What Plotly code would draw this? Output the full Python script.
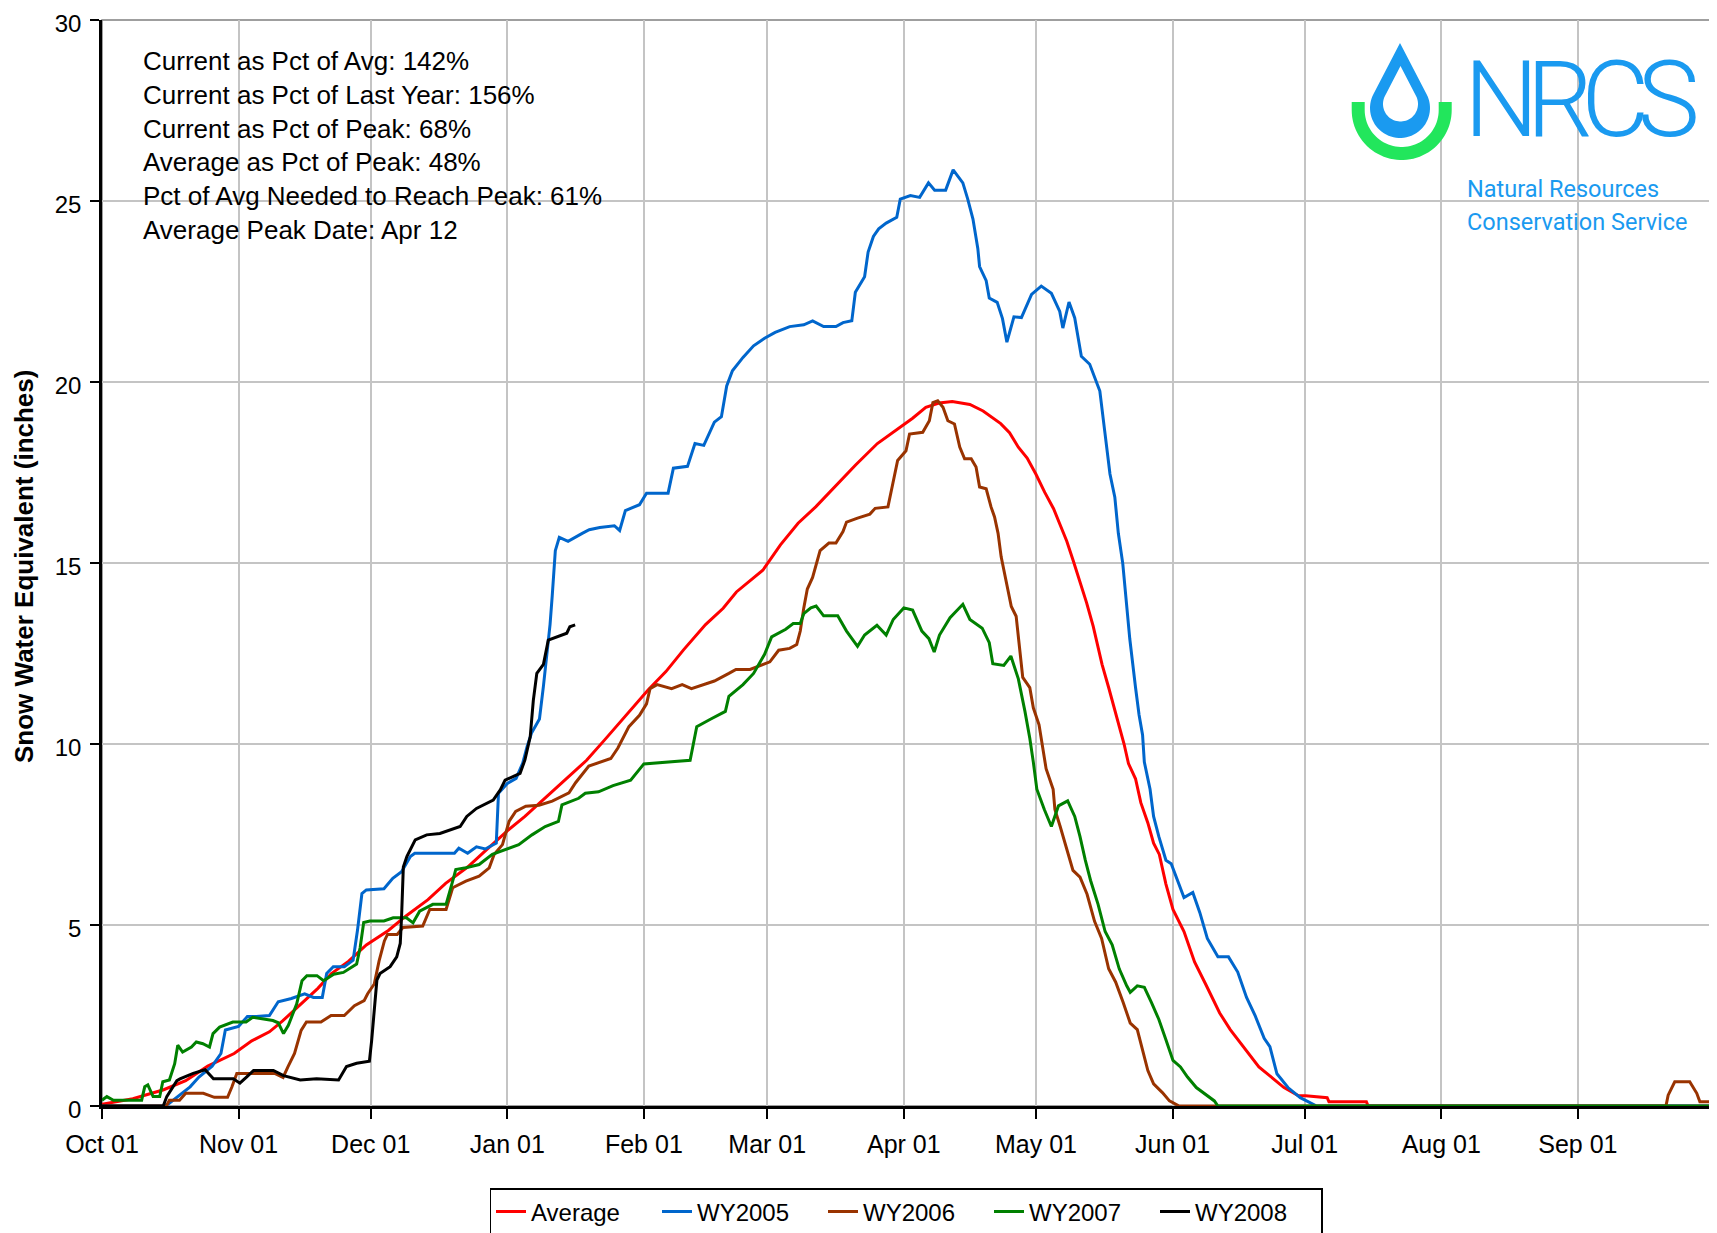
import numpy as np
import pandas as pd
import plotly.graph_objects as go

# ---------------- data (day offset from Oct 01, SWE inches) ----------------
START = "2006-10-01"

average = [(0, 0.05), (7, 0.2), (14, 0.45), (19, 0.7), (24, 1.1), (30, 1.45), (34, 1.8), (38, 2.05),
           (41, 2.35), (45, 2.8), (49, 3.25), (52, 3.65), (56, 4.0), (60, 4.45), (65, 4.85), (69, 5.25),
           (74, 5.7), (78, 6.15), (83, 6.6), (87, 7.05), (92, 7.6), (96, 8.0), (101, 8.55), (105, 9.0),
           (110, 9.55), (114, 10.1), (119, 10.8), (124, 11.5), (128, 12.0), (132, 12.6), (137, 13.3),
           (141, 13.75), (144, 14.2), (147, 14.5), (150, 14.8), (154, 15.5), (158, 16.1), (162, 16.55),
           (167, 17.2), (171, 17.7), (176, 18.3), (180, 18.65), (184, 19.0), (187, 19.3), (190, 19.42),
           (193, 19.46), (197, 19.38), (200, 19.2), (202, 19.02), (204, 18.85), (206, 18.6), (208, 18.2),
           (210, 17.9), (212, 17.45), (214, 16.95), (216, 16.5), (217.5, 16.05), (219, 15.6), (220.5, 15.05),
           (222, 14.5), (223.5, 13.9), (225, 13.25), (227, 12.2), (228.5, 11.56), (230, 10.9), (232, 10.0),
           (233, 9.46), (234.6, 9.04), (235.8, 8.38), (237.4, 7.82), (238.7, 7.26), (240, 6.95), (241.5, 6.13),
           (243.1, 5.43), (245.6, 4.82), (248, 3.98), (250.5, 3.37), (253.7, 2.57), (256.1, 2.11),
           (259.4, 1.59), (262.6, 1.08), (265.9, 0.75), (268.3, 0.51), (271.6, 0.28), (273.2, 0.28),
           (278.1, 0.23), (278.5, 0.12), (287, 0.12), (287.4, 0), (365, 0)]

wy2005 = [(0, 0), (14, 0), (15, 0.05), (18, 0.35), (20, 0.53), (22, 0.8), (25, 1.1), (27, 1.45), (28, 2.1),
          (31, 2.2), (33, 2.47), (35, 2.47), (38, 2.5), (40, 2.88), (43, 2.97), (46, 3.1), (48, 3.0),
          (50, 3.0), (51, 3.66), (52.5, 3.85), (55, 3.85), (57, 4.03), (58, 4.86), (59, 5.87), (60, 5.97),
          (64, 6.0), (66, 6.29), (68, 6.47), (70, 6.89), (71, 6.98), (80, 6.98), (81, 7.12), (83, 6.98),
          (85, 7.16), (87, 7.1), (89.5, 7.26), (90, 8.64), (92, 8.91), (94, 9.05), (95.5, 9.47),
          (96.5, 9.93), (97.5, 10.3), (99.3, 10.69), (100.2, 11.6), (101, 12.5), (101.7, 13.3),
          (102.2, 14.1), (102.9, 15.34), (103.8, 15.71), (105.8, 15.6), (109, 15.82), (110.6, 15.92),
          (113, 15.98), (116.3, 16.03), (117.5, 15.9), (118.8, 16.45), (122, 16.61), (123.6, 16.93),
          (128.5, 16.93), (129.7, 17.62), (132.9, 17.67), (134.6, 18.3), (136.6, 18.25), (139, 18.89),
          (140.6, 19.04), (141.8, 19.89), (143.1, 20.31), (145.5, 20.68), (147.9, 21.0), (150.4, 21.21),
          (152.8, 21.37), (156.1, 21.53), (159.3, 21.58), (161.3, 21.69), (163.8, 21.53), (166.6, 21.53),
          (168.2, 21.64), (170.2, 21.69), (171, 22.48), (173.1, 22.91), (173.9, 23.59), (175.1, 24.02),
          (176.3, 24.23), (178, 24.39), (180.4, 24.55), (181.2, 25.05), (183.5, 25.15), (185.6, 25.1),
          (187.6, 25.5), (189, 25.3), (191.5, 25.3), (193.2, 25.86), (195.4, 25.5), (196.5, 25.06),
          (197.7, 24.5), (198.8, 23.69), (199.2, 23.19), (200.7, 22.8), (201.4, 22.32), (203.2, 22.2),
          (204.4, 21.75), (205.4, 21.1), (207, 21.8), (208.7, 21.78), (211, 22.42), (213.2, 22.65),
          (215.5, 22.45), (217.4, 21.95), (218.1, 21.49), (219.5, 22.21), (220.8, 21.77), (221.9, 21.03),
          (222.3, 20.71), (224.2, 20.49), (226.5, 19.75), (227.6, 18.65), (228.8, 17.46), (229.9, 16.82),
          (230.7, 15.82), (231.7, 14.99), (232.6, 13.8), (233.3, 12.9), (234.6, 11.56), (235.4, 10.81),
          (236.2, 10.25), (236.6, 9.5), (237.9, 8.75), (238.7, 8.0), (239.9, 7.44), (241.5, 6.79),
          (242.7, 6.69), (243.9, 6.32), (245.6, 5.76), (247.6, 5.9), (249.2, 5.34), (250.9, 4.63),
          (253.3, 4.12), (255.7, 4.12), (257.8, 3.7), (259.8, 3.0), (261.8, 2.48), (263.8, 1.87),
          (265.1, 1.64), (266.7, 0.89), (269.2, 0.51), (272, 0.23), (274.8, 0.05), (275.7, 0), (365, 0)]

wy2006 = [(0, 0), (14.6, 0), (15.3, 0.16), (17.6, 0.16), (19, 0.35), (23, 0.35), (25.5, 0.24), (28.5, 0.24),
          (29.5, 0.53), (30.6, 0.9), (39.2, 0.9), (41.1, 0.79), (42.2, 1.08), (43.7, 1.45), (45.2, 2.09),
          (46.4, 2.32), (49.7, 2.32), (52, 2.5), (55, 2.5), (57.3, 2.77), (59.5, 2.91), (60.3, 3.1),
          (61.8, 3.37), (62.9, 4.01), (64.1, 4.56), (64.8, 4.74), (67, 4.74), (68.3, 4.93), (72.8, 4.97),
          (74.4, 5.43), (78.1, 5.43), (79.6, 6.03), (82.6, 6.21), (85.6, 6.35), (87.9, 6.58), (89, 6.95),
          (90.9, 7.22), (92.4, 7.86), (93.9, 8.14), (96.2, 8.28), (99.2, 8.31), (102.2, 8.42), (106, 8.65),
          (107.5, 8.93), (110.5, 9.39), (112.8, 9.48), (115.5, 9.6), (117.1, 9.89), (119.6, 10.48),
          (122, 10.79), (123.6, 11.11), (124.4, 11.53), (126, 11.64), (129.3, 11.53), (131.7, 11.64),
          (133.8, 11.53), (137.4, 11.69), (139, 11.74), (142.3, 11.95), (143.9, 12.06), (147.1, 12.06),
          (149.6, 12.17), (151.6, 12.27), (153.6, 12.59), (156.1, 12.64), (157.7, 12.75), (158.5, 13.12),
          (159.3, 13.76), (160.1, 14.28), (161.3, 14.6), (162.5, 15.13), (163, 15.34), (165, 15.55),
          (166.6, 15.55), (168.2, 15.87), (169, 16.13), (171.5, 16.24), (174.3, 16.35), (175.5, 16.51),
          (178.4, 16.55), (179.5, 17.19), (180.6, 17.83), (182.5, 18.1), (183.3, 18.56), (186.3, 18.61),
          (187.8, 18.93), (188.6, 19.43), (189.7, 19.48), (190.9, 19.3), (192, 18.93), (193.5, 18.84),
          (194.7, 18.2), (195.8, 17.88), (197.3, 17.88), (198.4, 17.65), (199.2, 17.1), (200.7, 17.05),
          (201.8, 16.55), (202.6, 16.27), (203.4, 15.82), (204.1, 15.17), (205.3, 14.4), (206.4, 13.8),
          (207.5, 13.53), (208.2, 12.69), (209, 11.84), (210.6, 11.56), (211.4, 11.0), (212.7, 10.53),
          (213.5, 9.88), (214.3, 9.32), (215.9, 8.75), (216.3, 8.19), (217.5, 7.72), (218.4, 7.35),
          (219.2, 6.98), (220.4, 6.51), (222, 6.32), (223.6, 5.85), (225.3, 5.1), (226.9, 4.63),
          (228.5, 3.79), (230.1, 3.42), (231.8, 2.86), (233.4, 2.29), (235, 2.11), (236.2, 1.54),
          (237.4, 0.98), (238.7, 0.61), (240.7, 0.37), (242.3, 0.14), (244, 0.03), (244.5, 0), (355, 0),
          (355.5, 0.3), (357, 0.67), (360.4, 0.67), (362, 0.35), (362.7, 0.12), (365, 0.12)]

wy2007 = [(0, 0.16), (1.1, 0.26), (2.6, 0.16), (9, 0.16), (9.7, 0.53), (10.4, 0.58), (11.6, 0.26),
          (13.1, 0.26), (13.8, 0.67), (15.3, 0.72), (16.5, 1.17), (17.2, 1.68), (18.3, 1.49), (20.3, 1.63),
          (21.4, 1.77), (22.9, 1.72), (24.4, 1.63), (25.2, 2.0), (26.7, 2.18), (29.7, 2.32), (32.7, 2.32),
          (34.2, 2.45), (38.8, 2.36), (40, 2.3), (41.2, 2.0), (42.3, 2.23), (44.2, 2.82), (45.4, 3.46),
          (46.5, 3.6), (48.8, 3.6), (50.3, 3.46), (52.6, 3.64), (54.8, 3.69), (57.8, 3.92), (58.6, 4.38),
          (59.4, 5.07), (60.8, 5.11), (64, 5.11), (66.1, 5.2), (69.1, 5.2), (70.6, 5.06), (72.1, 5.38),
          (75.1, 5.57), (78.1, 5.57), (79.6, 6.21), (80.3, 6.53), (82.6, 6.58), (85.6, 6.67), (88.6, 6.95),
          (91.6, 7.09), (94.6, 7.22), (97.6, 7.49), (100.6, 7.72), (103.6, 7.86), (104.4, 8.32),
          (108.2, 8.5), (109.7, 8.64), (112.7, 8.68), (116, 8.85), (120, 9.0), (123, 9.45), (133.5, 9.55),
          (135, 10.48), (138.2, 10.69), (141.5, 10.9), (142.3, 11.32), (145.5, 11.64), (147.9, 11.95),
          (150.4, 12.48), (152, 12.96), (155.2, 13.17), (156.9, 13.33), (158.5, 13.33), (159.3, 13.6),
          (160.9, 13.76), (162.1, 13.81), (163.8, 13.54), (167, 13.54), (169, 13.12), (171.5, 12.7),
          (173.1, 13.01), (175.9, 13.28), (178, 13.01), (179.6, 13.44), (182, 13.76), (184, 13.7),
          (186.1, 13.12), (187.7, 12.91), (188.9, 12.54), (190.1, 13.01), (192.5, 13.49), (195.4, 13.86),
          (197, 13.44), (199.8, 13.2), (201.4, 12.8), (202.2, 12.22), (204.7, 12.17), (206.3, 12.43),
          (208, 11.8), (209.5, 10.9), (210.6, 10.16), (211.4, 9.5), (212.2, 8.75), (213.9, 8.19),
          (215.5, 7.72), (217.1, 8.29), (219.2, 8.43), (220.8, 8.0), (222, 7.44), (223.2, 6.79),
          (224.4, 6.23), (226.1, 5.57), (227.7, 4.82), (229.3, 4.45), (230.9, 3.79), (232.6, 3.32),
          (233.4, 3.14), (235, 3.32), (236.6, 3.28), (238.2, 2.86), (239.9, 2.39), (241.5, 1.83),
          (243.1, 1.26), (244.8, 1.08), (246.4, 0.8), (248.4, 0.51), (250.5, 0.33), (252.5, 0.14),
          (253.3, 0), (365, 0)]

wy2008 = [(0, 0), (13.9, 0), (14.7, 0.26), (17, 0.7), (17.7, 0.75), (20.7, 0.9), (23.4, 1.0), (25.3, 0.75),
          (29.8, 0.75), (31.3, 0.63), (32.8, 0.8), (34.4, 0.98), (38.9, 0.98), (41.2, 0.84), (45, 0.72),
          (48.7, 0.75), (53.7, 0.72), (55.5, 1.09), (57.8, 1.18), (60.1, 1.24), (60.7, 1.24), (61.2, 1.8),
          (61.7, 2.56), (62.4, 3.48), (63.1, 3.66), (65.4, 3.85), (66.9, 4.12), (67.7, 4.49), (68, 5.23),
          (68.4, 6.6), (69.2, 6.89), (71.1, 7.35), (73.7, 7.49), (76.7, 7.53), (81.3, 7.72), (82.8, 8.0),
          (85, 8.22), (88.8, 8.45), (90.4, 8.73), (91.5, 9.0), (94.9, 9.19), (96, 9.56), (97.2, 10.2),
          (97.9, 11.2), (98.7, 11.95), (100.2, 12.2), (101.3, 12.87), (104, 13.0), (105.5, 13.06),
          (106.2, 13.24), (107.4, 13.29)]

series_names = ["Average", "WY2005", "WY2006", "WY2007", "WY2008"]
series_data = [average, wy2005, wy2006, wy2007, wy2008]
series_colors = ["#ff0000", "#0066cc", "#993300", "#008000", "#000000"]

month_ticks = ["2006-10-01", "2006-11-01", "2006-12-01", "2007-01-01", "2007-02-01", "2007-03-01",
               "2007-04-01", "2007-05-01", "2007-06-01", "2007-07-01", "2007-08-01", "2007-09-01",
               "2007-10-01"]
month_labels = ["Oct 01", "Nov 01", "Dec 01", "Jan 01", "Feb 01", "Mar 01",
                "Apr 01", "May 01", "Jun 01", "Jul 01", "Aug 01", "Sep 01", ""]
y_ticks = [0, 5, 10, 15, 20, 25, 30]

stats_lines = ["Current as Pct of Avg: 142%", "Current as Pct of Last Year: 156%",
               "Current as Pct of Peak: 68%", "Average as Pct of Peak: 48%",
               "Pct of Avg Needed to Reach Peak: 61%", "Average Peak Date: Apr 12"]

# ---------------- layout geometry (screen pixels; page body has an 8px margin) ----------------
OFF = 8
SCR_W, SCR_H = 1717, 1233
PL, PR, PT, PB = 102, 1710, 20, 1106          # plot area edges on screen
W, H = SCR_W - OFF, SCR_H - OFF
ML, MT = PL - OFF, PT - OFF
MR, MB = W - (PR - OFF), H - (PB - OFF)
PW, PH = PR - PL, PB - PT
FONT = "Arial, Liberation Sans, sans-serif"
LOGO_FONT = "Roboto, Liberation Sans, sans-serif"
LOGO_BLUE = "#1a9af0"
LOGO_GREEN = "#22e65c"


def px(x):
    return (x - PL) / PW


def py(y):
    return (PB - y) / PH


def path_from(points_list):
    s = ""
    for pts in points_list:
        s += "M" + " L".join(f"{px(x):.5f},{py(y):.5f}" for x, y in pts) + " Z "
    return s.strip()


def drop_points(cx, cy, r, tipy, n=48):
    th = np.arccos(r / (cy - tipy))
    angs = np.linspace(th, 2 * np.pi - th, n)
    return [(cx, tipy)] + [(cx + r * np.sin(a), cy - r * np.cos(a)) for a in angs]


def u_points(cx, cy, ro, ri, ytop, n=48):
    a1 = np.linspace(np.pi, 0, n)
    a2 = np.linspace(0, np.pi, n)
    pts = [(cx - ro, ytop)]
    pts += [(cx + ro * np.cos(a), cy + ro * np.sin(a)) for a in a1]
    pts += [(cx + ro, ytop), (cx + ri, ytop)]
    pts += [(cx + ri * np.cos(a), cy + ri * np.sin(a)) for a in a2]
    pts += [(cx - ri, ytop)]
    return pts


fig = go.Figure()
for name, data, color in zip(series_names, series_data, series_colors):
    d, v = zip(*data)
    x = pd.Timestamp(START) + pd.to_timedelta(np.array(d, dtype=float), unit="D")
    fig.add_trace(go.Scatter(x=x, y=list(v), mode="lines", name=name,
                             line=dict(color=color, width=3)))

shapes = [
    dict(type="rect", xref="paper", yref="paper", x0=0, x1=1, y0=0, y1=1,
         line=dict(color="#808080", width=1.5), layer="below"),
    dict(type="path", xref="paper", yref="paper", layer="above", fillrule="evenodd",
         path=path_from([drop_points(1400, 108, 30, 43), drop_points(1400.5, 104, 17.5, 66)]),
         fillcolor=LOGO_BLUE, line=dict(width=0)),
    dict(type="path", xref="paper", yref="paper", layer="above",
         path=path_from([u_points(1401.7, 110, 50, 37, 102)]),
         fillcolor=LOGO_GREEN, line=dict(width=0)),
]

annotations = [
    dict(text="<br>".join(stats_lines), xref="paper", yref="paper", x=px(141), y=py(44),
         xanchor="left", yanchor="top", align="left", showarrow=False,
         font=dict(family=FONT, size=26, color="#000000")),
    dict(text="Snow Water Equivalent (inches)", xref="paper", yref="paper", x=px(24), y=py(567),
         xanchor="center", yanchor="middle", textangle=-90, showarrow=False,
         font=dict(family=FONT, size=26, color="#000000", weight="bold")),
    dict(text='<span style="letter-spacing:-12px">NRCS</span>', xref="paper", yref="paper",
         x=px(1462), y=py(100), xanchor="left", yanchor="middle", showarrow=False,
         font=dict(family=LOGO_FONT, size=105, color=LOGO_BLUE, weight=300)),
    dict(text="Natural Resources", xref="paper", yref="paper", x=px(1465), y=py(189),
         xanchor="left", yanchor="middle", showarrow=False,
         font=dict(family=LOGO_FONT, size=23.5, color=LOGO_BLUE)),
    dict(text="Conservation Service", xref="paper", yref="paper", x=px(1465), y=py(222),
         xanchor="left", yanchor="middle", showarrow=False,
         font=dict(family=LOGO_FONT, size=23.5, color=LOGO_BLUE)),
]

fig.update_layout(
    width=W, height=H,
    margin=dict(l=ML, r=MR, t=MT, b=MB, pad=0, autoexpand=False),
    paper_bgcolor="#ffffff", plot_bgcolor="#ffffff",
    font=dict(family=FONT, size=24, color="#000000"),
    showlegend=True,
    legend=dict(orientation="h", xref="paper", x=0.5, xanchor="center",
                yref="container", y=(H - (1188 - OFF)) / H, yanchor="top",
                bordercolor="#000000", borderwidth=1.5, bgcolor="#ffffff",
                font=dict(family=FONT, size=24, color="#000000"),
                entrywidth=121, entrywidthmode="pixels", tracegroupgap=0),
    shapes=shapes,
    annotations=annotations,
)

fig.update_xaxes(
    type="date", range=["2006-10-01", "2007-10-01"],
    tickmode="array", tickvals=month_ticks, ticktext=month_labels,
    showgrid=True, gridcolor="#c4c4c4", gridwidth=1.5,
    showline=True, linecolor="#000000", linewidth=2.5,
    ticks="outside", ticklen=10, tickwidth=2, tickcolor="#000000",
    ticklabelstandoff=4, ticklabeloverflow="allow",
    tickfont=dict(family=FONT, size=25, color="#000000"),
    zeroline=False, fixedrange=True, automargin=False,
)
fig.update_yaxes(
    range=[0, 30], tickmode="array", tickvals=y_ticks,
    showgrid=True, gridcolor="#c4c4c4", gridwidth=1.5,
    showline=True, linecolor="#000000", linewidth=2.5,
    ticks="outside", ticklen=9, tickwidth=2, tickcolor="#000000",
    ticklabelstandoff=4, ticklabelshift=4, ticklabeloverflow="allow",
    tickfont=dict(family=FONT, size=24, color="#000000"),
    zeroline=False, fixedrange=True, automargin=False,
)

fig.write_html("out.html")
